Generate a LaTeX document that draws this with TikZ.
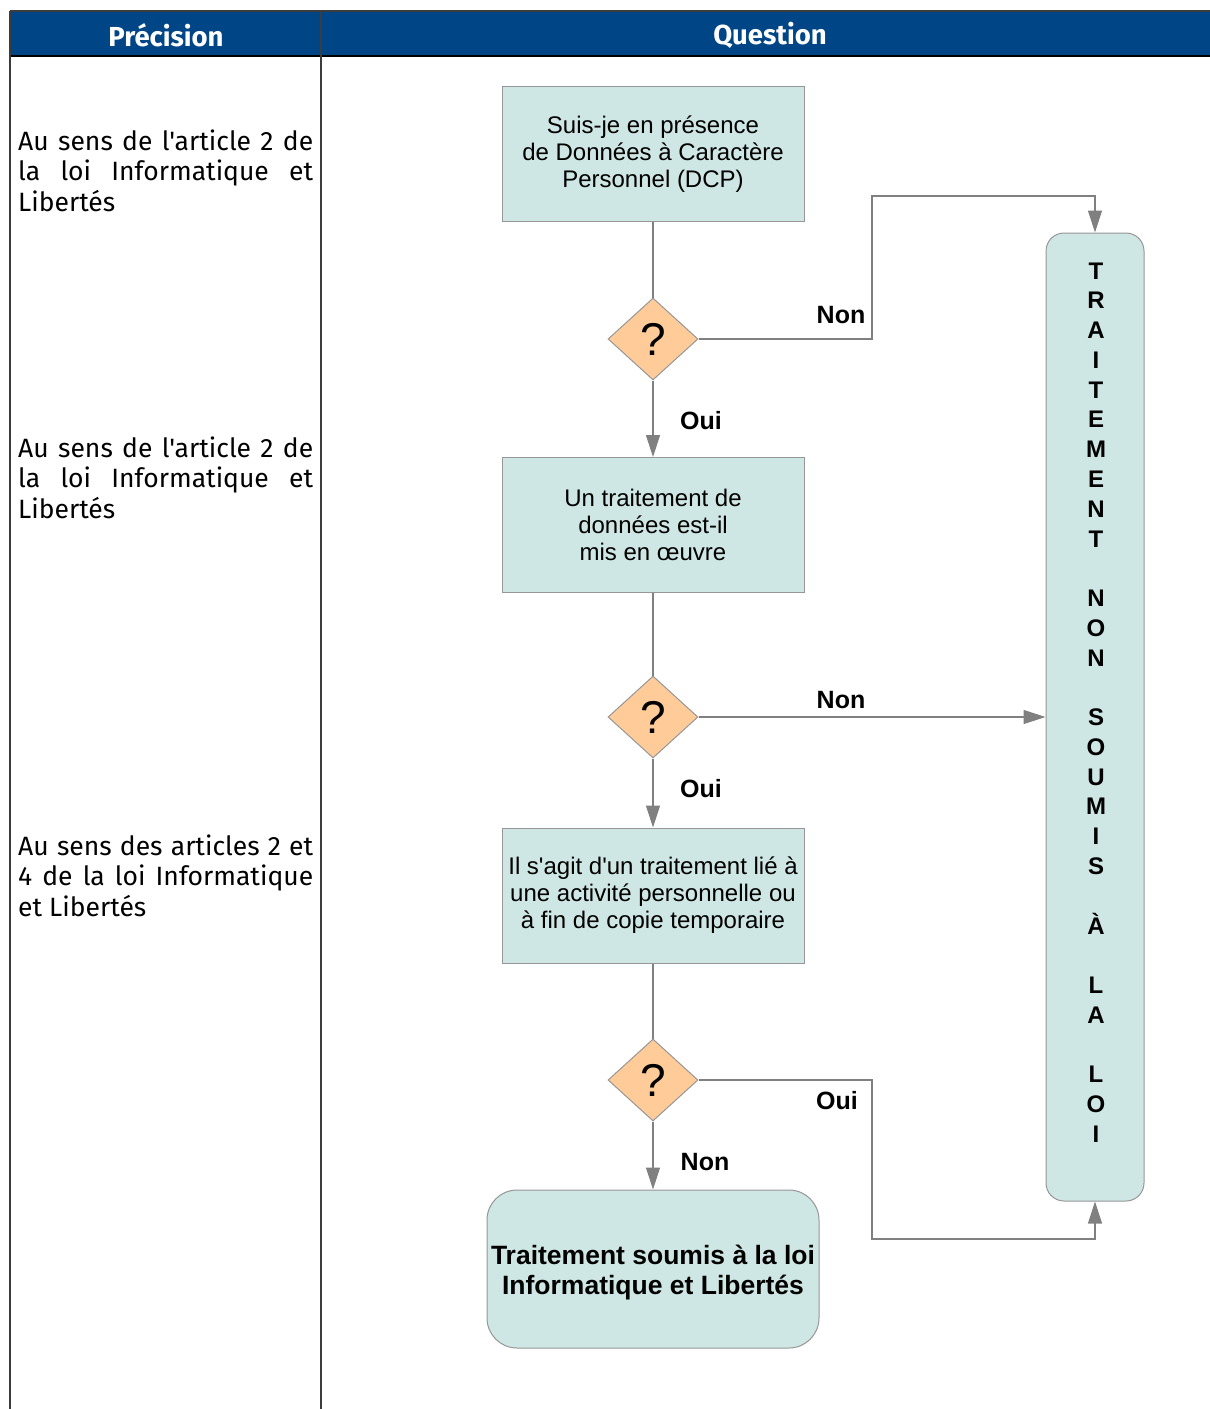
\documentclass[tikz,border=0pt]{standalone}
\usepackage{fontspec}
\setmainfont{Liberation Sans}[Ligatures=TeXOff]
\newfontfamily\ubu{Fira Sans}[Ligatures=TeXOff]
\usetikzlibrary{shapes.geometric,arrows.meta}
\definecolor{hdrblue}{RGB}{0,70,135}
\definecolor{boxfill}{RGB}{207,231,228}
\definecolor{diafill}{RGB}{255,204,153}
\definecolor{linegray}{RGB}{128,128,128}
\definecolor{bordgray}{RGB}{150,150,150}
\definecolor{tabline}{RGB}{60,60,60}
\begin{document}
\begin{tikzpicture}[x=1pt,y=-1pt,
  qbox/.style={draw=bordgray,line width=1pt,fill=boxfill,minimum width=302pt,minimum height=135pt,inner sep=0pt,align=center,font=\fontsize{24}{27}\selectfont},
  qdia/.style={diamond,draw=bordgray,line width=1pt,fill=diafill,minimum width=90pt,minimum height=82pt,inner sep=0pt,font=\fontsize{46}{50}\selectfont},
  conn/.style={draw=linegray,line width=1.2pt},
  arr/.style={conn,-{Triangle[length=22pt,width=14pt]},color=linegray},
  lbl/.style={font=\bfseries\fontsize{25}{28}\selectfont,inner sep=0pt},
  ptxt/.style={anchor=base west,inner sep=0pt,font=\ubu\fontsize{26.5}{30.8}\selectfont},
  hdr/.style={text=white,font=\ubu\bfseries\fontsize{27.5}{30}\selectfont,inner sep=0pt}
]
\useasboundingbox (0,0) rectangle (1210,1409);
% table
\fill[hdrblue] (10,11) rectangle (1210,56);
\draw[tabline,line width=1.4pt] (10,11) -- (1210,11);
\draw[black,line width=1.6pt] (10,56) -- (1210,56);
\draw[tabline,line width=1.4pt] (10,11) -- (10,1409);
\draw[tabline,line width=1.4pt] (321,11) -- (321,1409);
\node[hdr] (hp) at (166,35) {Précision};
\node[hdr] (hq) at (770,35) {Question};
% left texts
\node[ptxt] (p1) at (18,150) {\parbox[t]{295pt}{\makebox[295pt][s]{Au sens de l'article 2 de}\\\makebox[295pt][s]{la loi Informatique et}\\Libertés}};
\node[ptxt] (p2) at (18,457) {\parbox[t]{295pt}{\makebox[295pt][s]{Au sens de l'article 2 de}\\\makebox[295pt][s]{la loi Informatique et}\\Libertés}};
\node[ptxt] (p3) at (18,855) {\parbox[t]{295pt}{\makebox[295pt][s]{Au sens des articles 2 et}\\\makebox[295pt][s]{4 de la loi Informatique}\\et Libertés}};
% flowchart
\node[qbox] (b1) at (653,154) {Suis-je en présence\\de Données à Caractère\\Personnel (DCP)};
\node[qdia] (d1) at (653,339) {?};
\node[qbox] (b2) at (653,525) {Un traitement de\\données est-il\\mis en œuvre};
\node[qdia] (d2) at (653,717) {?};
\node[qbox] (b3) at (653,895.5) {Il s'agit d'un traitement lié à\\une activité personnelle ou\\à fin de copie temporaire};
\node[qdia] (d3) at (653,1080) {?};
\node[draw=bordgray,line width=1pt,fill=boxfill,rounded corners=30pt,minimum width=332pt,minimum height=158pt,inner sep=0pt] (b4) at (653,1269) {};
\node[inner sep=0pt,align=center,font=\bfseries\fontsize{26.5}{30}\selectfont] (b4t) at (653,1273) {Traitement soumis à la loi\\Informatique et Libertés};
\node[draw=bordgray,line width=1pt,fill=boxfill,rounded corners=18pt,minimum width=98pt,minimum height=968pt,inner sep=0pt] (tall) at (1095,717) {};
\node[inner sep=0pt,align=center,font=\bfseries\fontsize{24}{29.77}\selectfont] (tallt) at (1096,702.5) {T\\R\\A\\I\\T\\E\\M\\E\\N\\T\\\mbox{}\\N\\O\\N\\\mbox{}\\S\\O\\U\\M\\I\\S\\\mbox{}\\À\\\mbox{}\\L\\A\\\mbox{}\\L\\O\\I};
\coordinate (c1) at (872,196);
\coordinate (c2) at (872,1239);
% connectors
\draw[conn] (b1.south) -- (d1.north);
\draw[arr] (d1.south) -- (b2.north);
\draw[arr] (d1.east) -| (c1) -| (tall.north);
\draw[conn] (b2.south) -- (d2.north);
\draw[arr] (d2.south) -- (b3.north);
\draw[arr] (d2.east) -- (tall.west);
\draw[conn] (b3.south) -- (d3.north);
\draw[arr] (d3.south) -- (b4.north);
\draw[arr] (d3.east) -| (c2) -| (tall.south);
% labels
\node[lbl] (l1) at (841,315) {Non};
\node[lbl] (l2) at (701,421) {Oui};
\node[lbl] (l3) at (841,700) {Non};
\node[lbl] (l4) at (701,789) {Oui};
\node[lbl] (l5) at (837,1101) {Oui};
\node[lbl] (l6) at (705,1162) {Non};
\end{tikzpicture}
\end{document}
